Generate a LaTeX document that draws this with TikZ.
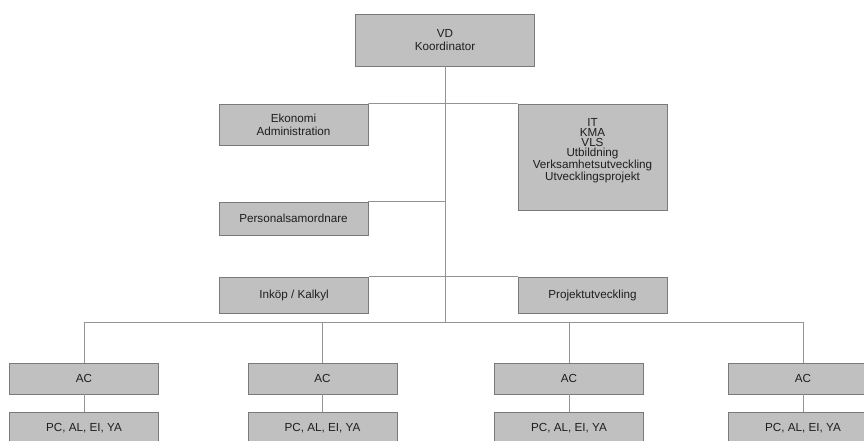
\documentclass[tikz,border=0pt]{standalone}
\usepackage{fontspec}
\setmainfont{Liberation Sans}
\setsansfont{Liberation Sans}
\usepackage{tikz}
\usetikzlibrary{positioning}
\definecolor{kfill}{HTML}{C0C0C0}
\definecolor{kedge}{HTML}{7A7A7A}
\definecolor{kline}{HTML}{939393}
\definecolor{ktext}{HTML}{1E1E1E}
\tikzset{
  orgbox/.style={draw=kedge, fill=kfill, line width=0.6pt, inner sep=0pt,
                 minimum width=3.725cm, align=center, text=ktext,
                 font=\fontsize{8.3}{9.2}\selectfont},
  orgtext/.style={inner sep=0pt, align=center, text=ktext,
                  font=\fontsize{8.3}{7.1}\selectfont},
  orgline/.style={draw=kline, line width=0.6pt},
}

\begin{document}
\begin{tikzpicture}[x=0.025cm, y=0.025cm]

  \useasboundingbox (0,0) rectangle (864,441);

  % top
  \node[orgbox, minimum width=4.475cm, minimum height=1.3cm] (vd) at (445,401) {VD\\Koordinator};

  % staff
  \node[orgbox, minimum height=1.025cm] (ekonomi) at (293.5,316.5) {Ekonomi\\Administration};
  \node[orgbox, minimum height=2.65cm] (it) at (592.5,284) {};
  \node[orgtext, below=0.36cm of it.north] (itlist)
    {IT\\KMA\\VLS\\Utbildning\\Verksamhetsutveckling\\Utvecklingsprojekt};
  \node[orgbox, minimum height=0.825cm] (personal) at (293.5,222.5) {Personalsamordnare};
  \node[orgbox, minimum height=0.9cm] (inkop) at (294,146) {Inköp / Kalkyl};
  \node[orgbox, minimum height=0.9cm] (projekt) at (592.5,146) {Projektutveckling};

  \coordinate (bus) at (445,119);

  % lines
  \draw[orgline] (vd.south) -- (bus);
  \draw[orgline] (ekonomi.north east) -- (it.north west);
  \draw[orgline] (personal.north east) -- (vd.south |- personal.north);
  \draw[orgline] (inkop.north east) -- (projekt.north west);

  % units
  \foreach \n/\xc in {1/84, 2/322.5, 3/569, 4/803} {
    \node[orgbox, minimum height=0.775cm] (ac\n) at (\xc,62.5) {AC};
    \node[orgbox, minimum height=0.8cm] (pc\n) at (\xc,13) {PC, AL, EI, YA};
    \draw[orgline] (ac\n.north) -- (ac\n.north |- bus);
    \draw[orgline] (ac\n.south) -- (pc\n.north);
  }
  \draw[orgline] (ac1.north |- bus) -- (ac4.north |- bus);

\end{tikzpicture}
\end{document}
